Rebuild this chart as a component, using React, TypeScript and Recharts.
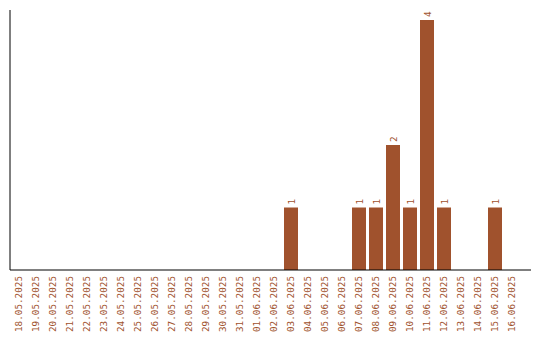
import React from 'react'
import { BarChart, Bar, XAxis, YAxis, LabelList } from 'recharts'

const dates = [
  '18.05.2025', '19.05.2025', '20.05.2025', '21.05.2025', '22.05.2025',
  '23.05.2025', '24.05.2025', '25.05.2025', '26.05.2025', '27.05.2025',
  '28.05.2025', '29.05.2025', '30.05.2025', '31.05.2025', '01.06.2025',
  '02.06.2025', '03.06.2025', '04.06.2025', '05.06.2025', '06.06.2025',
  '07.06.2025', '08.06.2025', '09.06.2025', '10.06.2025', '11.06.2025',
  '12.06.2025', '13.06.2025', '14.06.2025', '15.06.2025', '16.06.2025',
]

const counts = [
  0, 0, 0, 0, 0, 0, 0, 0, 0, 0,
  0, 0, 0, 0, 0, 0, 1, 0, 0, 0,
  1, 1, 2, 1, 4, 1, 0, 0, 1, 0,
]

const SIENNA = '#A0522D'
const FONT = '"DejaVu Sans Mono", monospace'

const data = dates.map((d, i) => ({ date: d, count: counts[i] }))

const DateTick = (props: any) => {
  const { x, y, payload } = props
  return (
    <text
      x={x}
      y={y}
      transform={`rotate(-90, ${x}, ${y})`}
      textAnchor="end"
      dominantBaseline="central"
      fill={SIENNA}
      fontSize={9.3}
      fontFamily={FONT}
    >
      {payload.value}
    </text>
  )
}

const CountLabel = (props: any) => {
  const { x, y, width, value } = props
  if (!value) return null
  const cx = x + width / 2
  const cy = y - 3
  return (
    <text
      x={cx}
      y={cy}
      transform={`rotate(-90, ${cx}, ${cy})`}
      textAnchor="start"
      dominantBaseline="central"
      fill={SIENNA}
      fontSize={9.3}
      fontFamily={FONT}
    >
      {value}
    </text>
  )
}

export default function App() {
  return (
    <div style={{ position: 'absolute', left: 0, top: 0, background: '#fff' }}>
      <BarChart
        width={540}
        height={340}
        data={data}
        margin={{ top: 10, right: 9, left: 9, bottom: 0 }}
      >
        <XAxis
          dataKey="date"
          interval={0}
          tickLine={false}
          axisLine={{ stroke: '#000', strokeWidth: 1 }}
          tick={<DateTick />}
          tickMargin={0}
          height={70}
          padding={{ left: 0, right: 11 }}
        />
        <YAxis
          width={1}
          domain={[0, 4.16]}
          tick={false}
          tickLine={false}
          axisLine={{ stroke: '#000', strokeWidth: 1 }}
        />
        <Bar dataKey="count" fill={SIENNA} barSize={14} isAnimationActive={false}>
          <LabelList dataKey="count" content={<CountLabel />} />
        </Bar>
      </BarChart>
    </div>
  )
}
